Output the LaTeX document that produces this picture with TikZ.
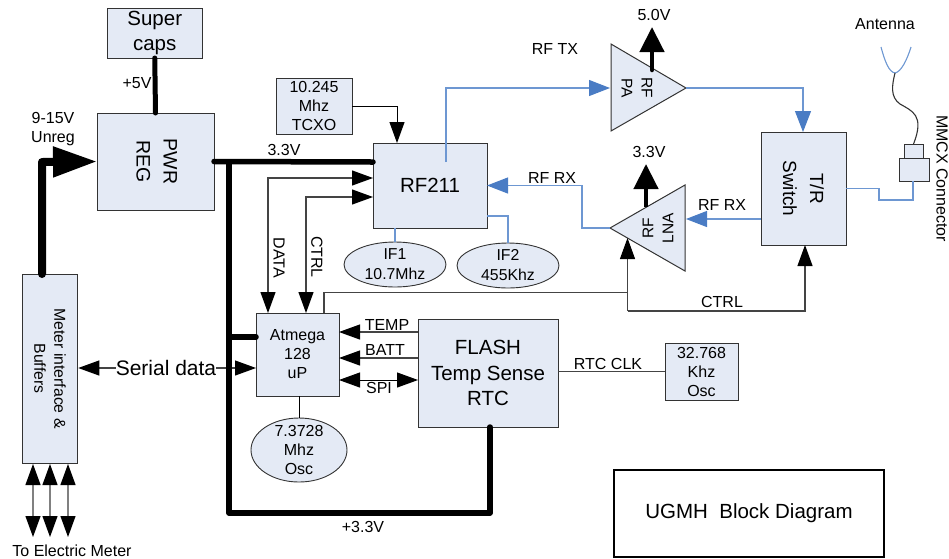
\documentclass[tikz,border=0pt]{standalone}
\usepackage{fontspec}
\setmainfont{Liberation Sans}
\usetikzlibrary{arrows.meta,shapes.geometric}
\definecolor{boxfill}{HTML}{E4EAF5}
\definecolor{edge}{HTML}{333333}
\definecolor{wireblue}{HTML}{6D97D2}
\definecolor{headblue}{HTML}{4A7CC4}
\definecolor{wiregray}{HTML}{444444}
\tikzset{
  lab/.style={inner sep=0pt,outer sep=0pt,align=center,font=\fontsize{16}{19}\selectfont},
  boxn/.style={draw=edge,line width=1pt,fill=boxfill,inner sep=0pt,outer sep=0pt,align=center,font=\fontsize{16}{19}\selectfont},
  bigbox/.style={boxn,font=\fontsize{20.5}{25.5}\selectfont},
  ovaln/.style={ellipse,draw=edge,line width=0.9pt,fill=boxfill,inner sep=0pt,outer sep=0pt},
  tri/.style={draw=edge,line width=1pt,fill=boxfill,line join=miter},
  thin wire/.style={draw=black,line width=1pt},
  gray wire/.style={draw=wiregray,line width=1.1pt},
  blue wire/.style={draw=wireblue,line width=1.1pt},
  power/.style={draw=black,line width=5.5pt,line cap=round,line join=round},
  tipk/.tip={Triangle[length=21pt,width=15pt,color=black]},
  headR/.style={-tipk},
  headB/.style={tipk-tipk},
  headL/.style={tipk-},
  headBlue/.style={-{Triangle[length=21pt,width=16pt,color=headblue]}},
  headUp/.style={-{Triangle[length=25pt,width=24pt]}},
}
\begin{document}
\begin{tikzpicture}[x=1pt,y=-1pt]
\useasboundingbox (0,0) rectangle (949,558);
% boxes
\node[bigbox,minimum width=94.5pt,minimum height=50pt] (super) at (154.75,33) {Super\\caps};
\node[boxn,minimum width=117pt,minimum height=97pt,font=\fontsize{19.5}{27}\selectfont] (pwr) at (155.5,161.5) {\rotatebox{-90}{\begin{tabular}{@{}c@{}}PWR\\[0pt]REG\end{tabular}}};
\node[boxn,minimum width=54.5pt,minimum height=189pt] (meter) at (50,368.5) {};
\node[lab,rotate=-90,font=\fontsize{15.8}{20}\selectfont] at (meter.center) {Meter interface \&\\Buffers};
\node[boxn,minimum width=83pt,minimum height=83pt] (atmega) at (297.5,354.5) {Atmega\\128\\uP};
\node[bigbox,minimum width=140pt,minimum height=108pt] (flash) at (488,373) {FLASH\\Temp Sense\\RTC};
\node[boxn,minimum width=76pt,minimum height=56pt] (tcxo) at (314,106) {10.245\\Mhz\\TCXO};
\node[bigbox,minimum width=114pt,minimum height=85pt] (rf) at (430,185.5) {RF211};
\node[boxn,minimum width=85pt,minimum height=113pt] (tr) at (803.5,188.5) {};
\node[lab,rotate=-90,font=\fontsize{19}{27}\selectfont] at (tr.center) {T/R\\Switch};
\node[boxn,minimum width=73pt,minimum height=57pt] (rtcosc) at (701.5,371.5) {32.768\\Khz\\Osc};
\node[draw=black,line width=1.4pt,inner sep=0pt,outer sep=0pt,minimum width=270pt,minimum height=87pt,font=\fontsize{20.5}{24}\selectfont] (title) at (749,513.5) {UGMH\ \ Block Diagram};
% ovals
\node[ovaln,minimum width=96pt,minimum height=64pt,label={[lab]center:{7.3728\\Mhz\\Osc}}] (osc) at (299,450) {};
\node[ovaln,minimum width=102pt,minimum height=45pt,label={[lab,font=\fontsize{15.8}{20}\selectfont]center:{IF1\\10.7Mhz}}] (if1) at (395,264.5) {};
\node[ovaln,minimum width=102pt,minimum height=45pt,label={[lab,font=\fontsize{15.8}{20}\selectfont]center:{IF2\\455Khz}}] (if2) at (508,265.5) {};
% amplifier triangles
\coordinate (paNW) at (611,44); \coordinate (paSW) at (611,131); \coordinate (paTip) at (686,88);
\coordinate (lnaTip) at (610,228); \coordinate (lnaNE) at (685,185); \coordinate (lnaSE) at (685,271);
\draw[tri] (paNW) -- (paSW) -- (paTip) -- cycle;
\draw[tri] (lnaTip) -- (lnaNE) -- (lnaSE) -- cycle;
\node[lab,rotate=-90,font=\fontsize{15.5}{20}\selectfont] (paText) at (637,88) {RF\\PA};
\node[lab,rotate=90,font=\fontsize{15.5}{20}\selectfont] (lnaText) at (658,228) {RF\\LNA};
% MMCX connector
\node[boxn,minimum width=19pt,minimum height=14pt] (mmcxTop) at (913.5,151) {};
\node[boxn,minimum width=30pt,minimum height=23pt] (mmcx) at (914,169.5) {};
% helper coordinates
\coordinate (jPwr) at (229,162);
\coordinate (jBot) at (229,513);
\coordinate (flashDrop) at (490,513);
\coordinate (jAt) at (229,337);
\coordinate (dataX) at (268,178);
\coordinate (ctrlX) at (306,197);
\coordinate (ctrlTop) at (324,292.5);
\coordinate (ctrlJ) at (627.5,292.5);
\coordinate (ctrlLow) at (627.5,311);
\coordinate (ctrlLowR) at (805,311);
\coordinate (lnaArrow) at (627.5,238);
\coordinate (txUp) at (446,88);
\coordinate (txStart) at (446,162);
\coordinate (paIn) at (610,88);
\coordinate (paOutC) at (803,88);
\coordinate (rxA) at (582,228);
\coordinate (rxB) at (582,185.5);
\coordinate (if2a) at (487,216);
\coordinate (if2b) at (508,216);
\coordinate (mA) at (879,188.5);
\coordinate (mB) at (879,200);
\coordinate (mC) at (913,200);
\coordinate (antL) at (881,47);
\coordinate (antM) at (895,73);
\coordinate (antR) at (911,47);
\coordinate (v5a) at (652,70);
\coordinate (v5b) at (652,27);
\coordinate (v3a) at (646,207);
\coordinate (v3b) at (646,164);
\coordinate (unregStart) at (42,274);
\coordinate (unregC) at (42,162);
% serial data
\node[lab,font=\fontsize{21}{24}\selectfont] (serial) at (166,368) {Serial data};
\draw[gray wire,headL] (serial.west -| meter.east) ++(1,0) -- (serial.west);
\draw[gray wire,headR] (serial.east) -- (serial.east -| atmega.west);
% thin black/gray wires
\draw[thin wire,headR] (tcxo.east) -- (397,106) -- (397,143);
\draw[gray wire,headB] (dataX |- atmega.north) -- (dataX) -- (dataX -| rf.west);
\draw[gray wire,headB] (ctrlX |- atmega.north) -- (ctrlX) -- (ctrlX -| rf.west);
\draw[gray wire] (ctrlTop |- atmega.north) -- (ctrlTop) -- (ctrlJ);
\draw[gray wire,headR] (ctrlLow) -- (lnaArrow);
\draw[gray wire,headR] (ctrlLow) -- (ctrlLowR) -- (tr.south -| ctrlLowR);
\draw[gray wire,headR] (418,332) coordinate (tempS) -- (tempS -| atmega.east);
\draw[gray wire,headR] (418,358) coordinate (battS) -- (battS -| atmega.east);
\draw[thin wire,headB] (418,380) coordinate (spiS) -- (spiS -| atmega.east);
\draw[thin wire] (atmega.south -| osc.north) -- (osc.north);
\draw[gray wire] (flash.east |- rtcosc.west) -- (rtcosc.west);
% blue wires
\draw[blue wire,headBlue] (txStart) -- (txUp) -- (paIn);
\draw[blue wire,headBlue] (paTip) -- (paOutC) -- (tr.north -| paOutC);
\draw[blue wire,headBlue] (tr.west |- 0,219) -- (686,219);
\draw[blue wire,headBlue] (lnaTip) -- (rxA) -- (rxB) -- (rxB -| rf.east);
\draw[blue wire] (if1.north) -- (if1.north |- rf.south);
\draw[blue wire] (if2a) -- (if2b) -- (if2.north);
\draw[blue wire] (mmcx.south -| mC) -- (mC) -- (mB) -- (mA) -- (mA -| tr.east);
% antenna
\draw[draw=wireblue,line width=1.1pt] (antL) .. controls (885,62) and (889,72) .. (antM) .. controls (901,72) and (907,60) .. (antR);
\draw[draw=edge,line width=1.1pt] (antM) .. controls (892,85) and (890,97) .. (900,104) .. controls (912,111) and (925,115) .. (mmcxTop.north);
% meter bus
\foreach \xx in {33,50,68} {
  \coordinate (busT) at (\xx,464); \coordinate (busB) at (\xx,537);
  \draw[gray wire,draw=gray,headB] (busT) -- (busB);
}
% power wires
\draw[power,line width=5pt] (super.south) -- (pwr.north);
\draw[power,line width=8pt,-{Triangle[length=44pt,width=29pt]}] (unregStart) -- (unregC) -- (pwr.west);
\draw[power] (pwr.east) -- (jPwr -| rf.west);
\draw[power] (jPwr) -- (jBot) -- (flashDrop) -- (flashDrop |- flash.south);
\draw[power] (jAt) -- (jAt -| atmega.west);
\draw[power,line width=4.5pt,headUp] (v5a) -- (v5b);
\draw[power,line width=4.5pt,line cap=butt,headUp] (v3a) -- (v3b);
% labels
\node[lab] at (654,15) {5.0V};
\node[lab] at (649,152) {3.3V};
\node[lab] at (555,49) {RF TX};
\node[lab] at (552,178) {RF RX};
\node[lab] at (722,205) {RF RX};
\node[lab] at (722,302) {CTRL};
\node[lab] at (284,150) {3.3V};
\node[lab] at (137,83) {+5V};
\node[lab] at (53,129) {9-15V\\Unreg};
\node[lab,rotate=-90] at (279,258) {DATA};
\node[lab,rotate=-90] at (317,257) {CTRL};
\node[lab] at (387,325) {TEMP};
\node[lab] at (385,350) {BATT};
\node[lab] at (379,388) {SPI};
\node[lab] at (608,364) {RTC CLK};
\node[lab] at (363,527) {+3.3V};
\node[lab] at (72,550.5) {To Electric Meter};
\node[lab] at (885,24) {Antenna};
\node[lab,rotate=-90,anchor=base west] at (936.5,115) {MMCX Connector};
\end{tikzpicture}
\end{document}
